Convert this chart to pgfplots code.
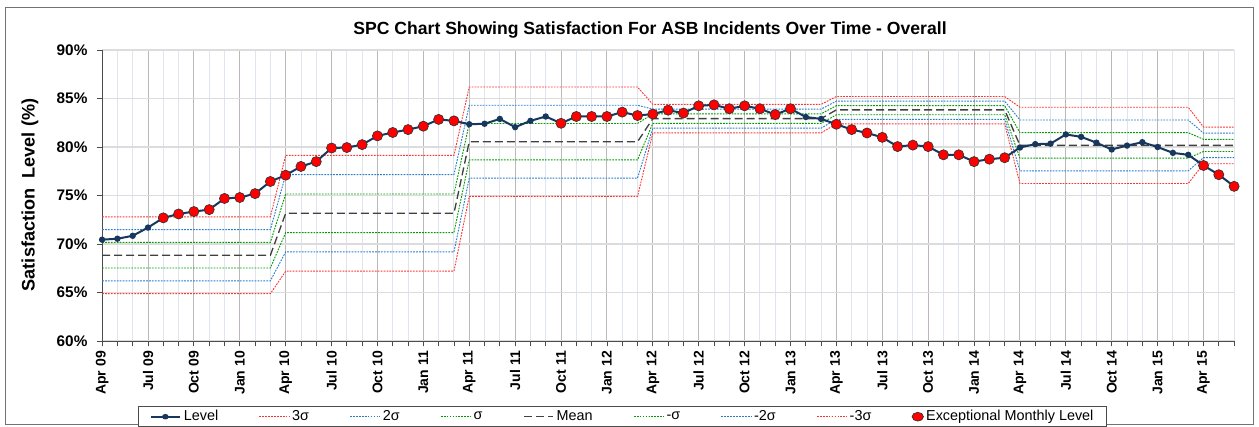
\documentclass[border=0pt]{standalone}
\usepackage{pgfplots}
\pgfplotsset{compat=1.18}
\usepackage{pgfplotstable}
\usepackage{fontspec}
\setmainfont{Liberation Sans}
\definecolor{navy}{RGB}{23,55,94}
\definecolor{lred}{RGB}{255,50,50}
\definecolor{lblue}{RGB}{40,125,205}
\definecolor{lgreen}{RGB}{0,155,0}
\definecolor{gridmin}{RGB}{222,229,238}
\definecolor{gridmaj}{RGB}{185,185,185}
\definecolor{gridh}{RGB}{220,220,220}

\pgfplotstableread{
x level
0 70.45
1 70.55
2 70.85
3 71.7
4 72.7
5 73.1
6 73.35
7 73.55
8 74.7
9 74.8
10 75.2
11 76.45
12 77.1
13 78.0
14 78.5
15 79.9
16 79.95
17 80.25
18 81.15
19 81.5
20 81.8
21 82.15
22 82.85
23 82.7
24 82.35
25 82.4
26 82.9
27 82.05
28 82.7
29 83.15
30 82.45
31 83.15
32 83.15
33 83.15
34 83.6
35 83.25
36 83.4
37 83.8
38 83.5
39 84.25
40 84.35
41 83.95
42 84.25
43 83.95
44 83.35
45 83.95
46 83.1
47 82.9
48 82.35
49 81.8
50 81.45
51 81.0
52 80.05
53 80.2
54 80.05
55 79.2
56 79.2
57 78.5
58 78.75
59 78.9
60 79.95
61 80.3
62 80.35
63 81.3
64 81.05
65 80.45
66 79.75
67 80.15
68 80.5
69 80.0
70 79.4
71 79.2
72 78.1
73 77.15
74 75.95
}\leveldata

\pgfplotstableread{
x level
4 72.7
5 73.1
6 73.35
7 73.55
8 74.7
9 74.8
10 75.2
11 76.45
12 77.1
13 78.0
14 78.5
15 79.9
16 79.95
17 80.25
18 81.15
19 81.5
20 81.8
21 82.15
22 82.85
23 82.7
30 82.45
31 83.15
32 83.15
33 83.15
34 83.6
35 83.25
36 83.4
37 83.8
38 83.5
39 84.25
40 84.35
41 83.95
42 84.25
43 83.95
44 83.35
45 83.95
48 82.35
49 81.8
50 81.45
51 81.0
52 80.05
53 80.2
54 80.05
55 79.2
56 79.2
57 78.5
58 78.75
59 78.9
72 78.1
73 77.15
74 75.95
}\excdata

\pgfplotstableread{
x p3 p2 p1 m m1 m2 m3
0 72.81 71.49 70.17 68.85 67.53 66.21 64.89
11 72.81 71.49 70.17 68.85 67.53 66.21 64.89
12 79.14 77.15 75.16 73.17 71.18 69.19 67.20
23 79.14 77.15 75.16 73.17 71.18 69.19 67.20
24 86.19 84.31 82.43 80.55 78.67 76.79 74.91
35 86.19 84.31 82.43 80.55 78.67 76.79 74.91
36 84.40 83.91 83.42 82.93 82.44 81.95 81.46
47 84.40 83.91 83.42 82.93 82.44 81.95 81.46
48 85.21 84.74 84.27 83.83 83.33 82.86 82.39
59 85.21 84.74 84.27 83.83 83.33 82.86 82.39
60 84.10 82.79 81.48 80.17 78.86 77.55 76.24
71 84.10 82.79 81.48 80.17 78.86 77.55 76.24
72 82.06 81.43 80.80 80.17 79.54 78.91 78.28
74 82.06 81.43 80.80 80.17 79.54 78.91 78.28
}\limits

\tikzset{
 redl/.style={draw=lred, line width=0.7pt, dash pattern=on 1.3pt off 0.9pt},
 bluel/.style={draw=lblue, line width=0.7pt, dash pattern=on 1.3pt off 0.9pt},
 greenl/.style={draw=lgreen, line width=0.7pt, dash pattern=on 1.3pt off 0.9pt},
 meanl/.style={draw=black!75, line width=1pt, dash pattern=on 6pt off 3pt},
}

\begin{document}
\begin{tikzpicture}[x=1pt,y=1pt]
\path[use as bounding box] (0,0) rectangle (944.25,320.25);
\draw[black!55, line width=0.75pt] (3.75,1.5) rectangle (939.75,314.25);
\node[font=\bfseries\fontsize{13.2}{15}\selectfont] at (487.5,297.5) {SPC Chart Showing Satisfaction For ASB Incidents Over Time - Overall};
\node[rotate=90, font=\bfseries\fontsize{13.6}{15}\selectfont] at (22.5,174) {Satisfaction\ \ Level (\%)};
\begin{axis}[
 at={(66.75,88.6)}, anchor=south west, scale only axis,
 width=849pt, height=218.25pt,
 xmin=0, xmax=74, ymin=60, ymax=90,
 axis x line*=bottom, axis y line*=left,
 axis line style={-, draw=black!70, line width=0.8pt},
 tick align=outside, tick pos=left,
 major tick length=4pt, minor tick length=4pt,
 tick style={black!70, line width=0.6pt},
 xtick={0,3,...,72},
 minor xtick={0,...,74},
 xticklabels={Apr 09,Jul 09,Oct 09,Jan 10,Apr 10,Jul 10,Oct 10,Jan 11,Apr 11,Jul 11,Oct 11,Jan 12,Apr 12,Jul 12,Oct 12,Jan 13,Apr 13,Jul 13,Oct 13,Jan 14,Apr 14,Jul 14,Oct 14,Jan 15,Apr 15},
 xticklabel style={rotate=90, anchor=east, font=\bfseries\fontsize{10.5}{12}\selectfont},
 ytick={60,65,...,90},
 yticklabels={60\%,65\%,70\%,75\%,80\%,85\%,90\%},
 yticklabel style={xshift=-3.5pt, font=\bfseries\fontsize{11.5}{13}\selectfont},
 xmajorgrids, xminorgrids, ymajorgrids,
 major x grid style={gridmaj, line width=0.7pt},
 minor x grid style={gridmin, line width=0.7pt},
 major y grid style={gridh, line width=1.4pt},
 legend columns=9,
 legend style={at={(axis description cs:0.46,-0.26)}, anchor=center,
   draw=black!70, line width=0.7pt, font=\fontsize{10.8}{12}\selectfont,
   inner ysep=1pt, inner xsep=8pt, /tikz/every even column/.append style={column sep=28.5pt}},
 legend image post style={xscale=1.3},
 clip=false,
]
\addlegendimage{draw=navy, line width=1.5pt, mark=*, mark size=1.3pt, mark options={solid, fill=navy}}
\addlegendimage{redl}
\addlegendimage{bluel}
\addlegendimage{greenl}
\addlegendimage{meanl}
\addlegendimage{greenl}
\addlegendimage{bluel}
\addlegendimage{redl}
\addlegendimage{only marks, mark=*, mark size=3.3pt, mark options={fill=red, draw=black!80, line width=0.5pt}}
\legend{Level,3σ,2σ,σ,Mean,-σ,-2σ,-3σ,Exceptional Monthly Level}

\addplot[redl, forget plot] table[x=x,y=p3] {\limits};
\addplot[bluel, forget plot] table[x=x,y=p2] {\limits};
\addplot[greenl, forget plot] table[x=x,y=p1] {\limits};
\addplot[meanl, forget plot] table[x=x,y=m] {\limits};
\addplot[greenl, forget plot] table[x=x,y=m1] {\limits};
\addplot[bluel, forget plot] table[x=x,y=m2] {\limits};
\addplot[redl, forget plot] table[x=x,y=m3] {\limits};
\addplot[navy, line width=1.5pt, mark=*, mark size=1.6pt, forget plot] table[x=x,y=level] {\leveldata};
\addplot[only marks, mark=*, mark size=3.8pt, mark options={fill=red, draw=black!80, line width=0.5pt}, forget plot] table[x=x,y=level] {\excdata};
\end{axis}
\end{tikzpicture}
\end{document}
